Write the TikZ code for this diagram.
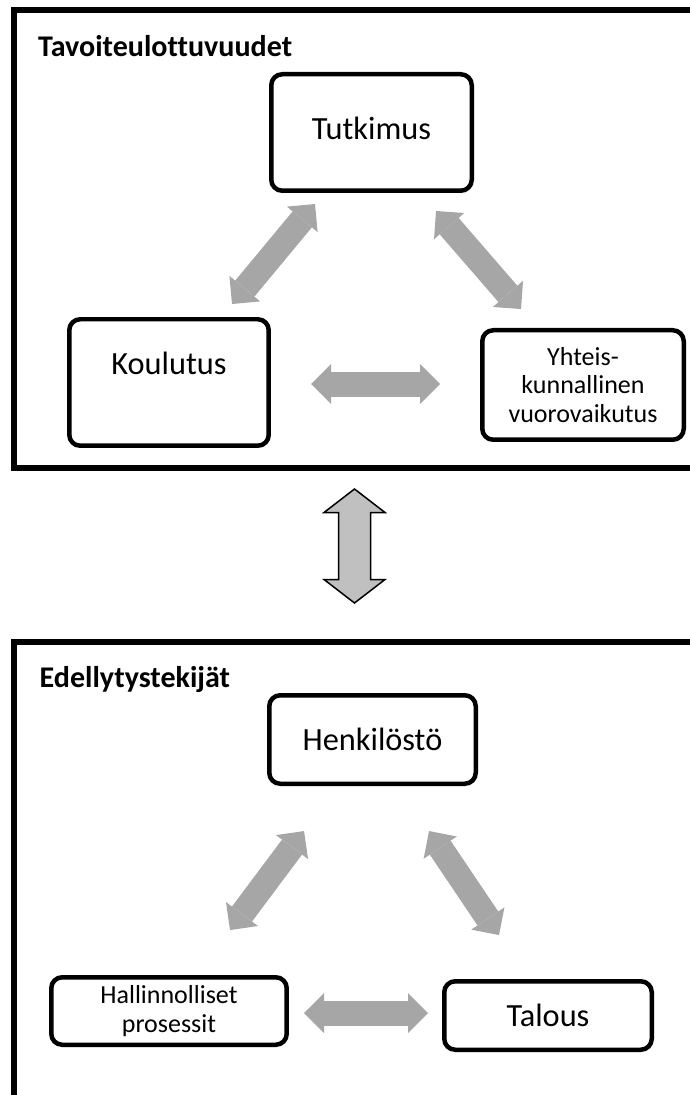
\documentclass[tikz,border=0pt]{standalone}
\usepackage{fontspec}
\setmainfont{Carlito}[Ligatures=CommonOff]
\usetikzlibrary{arrows.meta}
\definecolor{linkgray}{RGB}{166,166,166}
\definecolor{bigfill}{RGB}{192,192,192}

\begin{document}
\begin{tikzpicture}[scale=0.1,
    box/.style={draw=black, line width=0.45mm, rounded corners=1.1mm, align=center, font=\fontsize{9.2}{11}\selectfont},
    smallbox/.style={box, font=\fontsize{7.4}{8.1}\selectfont},
    frame/.style={draw=black, line width=0.6mm},
    heading/.style={anchor=base west, font=\fontsize{8.55}{10.2}\selectfont\bfseries},
    link/.style={draw=linkgray, line width=2.5mm, {Triangle[width=4mm,length=2mm,line width=0pt]}-{Triangle[width=4mm,length=2mm,line width=0pt]}},
    bigarrow/.style={draw=black, fill=bigfill, line width=0.15mm, line join=miter}]
        \tikzstyle{every node}+=[inner sep=0pt]
        \useasboundingbox (0,0) rectangle (69,-109.5);
        \clip (0,0) rectangle (69,-109.5);
        \draw [frame] (1.35,-1.0) rectangle (72,-46.8);
        \draw [frame] (1.35,-64.2) rectangle (72,-115);
        \node [heading] (tav) at (3.75,-5.67) {Tavoiteulottuvuudet};
        \node [heading] (ede) at (3.9,-68.7) {Edellytystekijät};
        \node [box, minimum width=20.05mm, minimum height=11.65mm, text depth=0.86mm] (tut) at (37.15,-13.25) {Tutkimus};
        \node [box, minimum width=19.95mm, minimum height=12.65mm, text depth=3.76mm] (kou) at (16.9,-38.25) {Koulutus};
        \node [smallbox, minimum width=20.15mm, minimum height=10.95mm] (yht) at (58.3,-38.5) {Yhteis-\\kunnallinen\\vuorovaikutus};
        \node [box, minimum width=20.65mm, minimum height=8.85mm] (hen) at (37.25,-73.95) {Henkilöstö};
        \node [smallbox, minimum width=23.55mm, minimum height=6.75mm] (hal) at (16.9,-101.1) {Hallinnolliset\\prosessit};
        \node [box, minimum width=20.75mm, minimum height=6.85mm] (tal) at (54.8,-101.55) {Talous};
        \coordinate (t1) at (23.2,-30.4);
        \coordinate (t2) at (31.5,-20.4);
        \coordinate (t3) at (43.6,-21.1);
        \coordinate (t4) at (52.1,-30.9);
        \coordinate (t5) at (31.1,-38.4);
        \coordinate (t6) at (44.0,-38.4);
        \coordinate (e1) at (23.0,-93.0);
        \coordinate (e2) at (30.4,-83.1);
        \coordinate (e3) at (42.9,-83.1);
        \coordinate (e4) at (49.9,-93.5);
        \coordinate (e5) at (30.4,-101.3);
        \coordinate (e6) at (42.8,-101.3);
        \draw [link] (t1) -- (t2);
        \draw [link] (t3) -- (t4);
        \draw [link] (t5) -- (t6);
        \draw [link] (e1) -- (e2);
        \draw [link] (e3) -- (e4);
        \draw [link] (e5) -- (e6);
        \draw [bigarrow] (35.45,-48.9) -- (38.5,-51.25) -- (37.05,-51.25) -- (37.05,-57.95) -- (38.5,-57.95) -- (35.45,-60.3) -- (32.4,-57.95) -- (33.85,-57.95) -- (33.85,-51.25) -- (32.4,-51.25) -- cycle;
    \end{tikzpicture}
\end{document}
